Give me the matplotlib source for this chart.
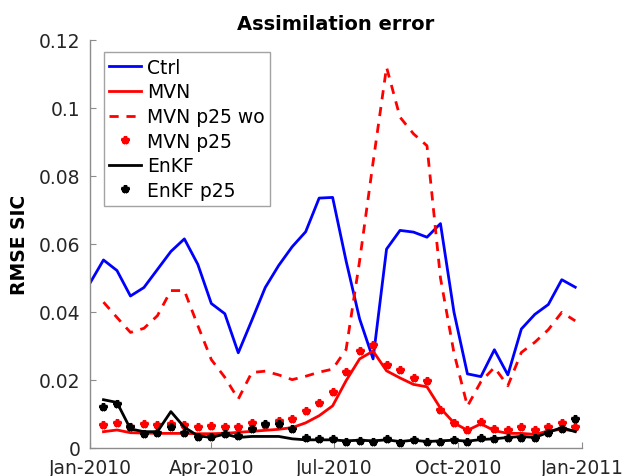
import matplotlib
matplotlib.use("Agg")
import matplotlib.pyplot as plt
import pandas as pd

plt.rcParams['font.family'] = ['DejaVu Sans']

start = pd.Timestamp("2010-01-01")
days_ctrl = [0, 10, 20, 30, 40, 50, 60, 70, 80, 90, 100, 110, 120, 130, 140, 150, 160, 170, 180,
             190, 200, 210, 220, 230, 240, 250, 260, 270, 280, 290, 300, 310, 320, 330, 340, 350, 360]
days = days_ctrl[1:]
dates_ctrl = [start + pd.Timedelta(days=d) for d in days_ctrl]
dates = [start + pd.Timedelta(days=d) for d in days]

ctrl = [0.0485, 0.0553, 0.0522, 0.0447, 0.0472, 0.0525, 0.0578, 0.0615, 0.0540, 0.0425, 0.0395,
        0.0280, 0.0375, 0.0472, 0.0537, 0.0592, 0.0636, 0.0735, 0.0737, 0.0550, 0.0380, 0.0262,
        0.0585, 0.0640, 0.0635, 0.0620, 0.0660, 0.0400, 0.0218, 0.0210, 0.0289, 0.0215, 0.0350,
        0.0393, 0.0422, 0.0495, 0.0473]
mvn_p25_wo = [0.0429, 0.0384, 0.0340, 0.0352, 0.0389, 0.0463, 0.0463, 0.0360, 0.0260, 0.0208,
              0.0144, 0.0222, 0.0226, 0.0215, 0.0201, 0.0211, 0.0223, 0.0232, 0.0290, 0.0550,
              0.0840, 0.1120, 0.0973, 0.0924, 0.0889, 0.0500, 0.0280, 0.0123, 0.0195, 0.0237,
              0.0183, 0.0281, 0.0311, 0.0348, 0.0399, 0.0374]
mvn = [0.0048, 0.0053, 0.0045, 0.0044, 0.0043, 0.0043, 0.0043, 0.0042, 0.0042, 0.0043, 0.0046,
       0.0049, 0.0052, 0.0055, 0.0060, 0.0074, 0.0095, 0.0124, 0.0198, 0.0262, 0.0285, 0.0227,
       0.0206, 0.0187, 0.0180, 0.0117, 0.0074, 0.0052, 0.0071, 0.0051, 0.0043, 0.0043, 0.0040,
       0.0050, 0.0055, 0.0050]
mvn_p25 = [0.0068, 0.0075, 0.0061, 0.0071, 0.0068, 0.0071, 0.0068, 0.0061, 0.0064, 0.0061, 0.0061,
           0.0074, 0.0068, 0.0080, 0.0085, 0.0108, 0.0133, 0.0165, 0.0223, 0.0284, 0.0304, 0.0243,
           0.0229, 0.0205, 0.0198, 0.0112, 0.0075, 0.0054, 0.0077, 0.0056, 0.0054, 0.0061, 0.0054,
           0.0061, 0.0073, 0.0061]
enkf = [0.0142, 0.0134, 0.0056, 0.0048, 0.0048, 0.0107, 0.0061, 0.0036, 0.0031, 0.0041, 0.0031,
        0.0034, 0.0034, 0.0034, 0.0027, 0.0024, 0.0024, 0.0024, 0.0021, 0.0023, 0.0021, 0.0024,
        0.0019, 0.0023, 0.0019, 0.0021, 0.0023, 0.0020, 0.0025, 0.0027, 0.0031, 0.0034, 0.0031,
        0.0046, 0.0060, 0.0048]
enkf_p25 = [0.0122, 0.0130, 0.0061, 0.0041, 0.0044, 0.0061, 0.0044, 0.0031, 0.0031, 0.0041, 0.0034,
            0.0056, 0.0070, 0.0070, 0.0056, 0.0028, 0.0026, 0.0026, 0.0019, 0.0022, 0.0019, 0.0026,
            0.0015, 0.0025, 0.0017, 0.0019, 0.0025, 0.0017, 0.0028, 0.0026, 0.0030, 0.0030, 0.0028,
            0.0043, 0.0057, 0.0084]

xtick_dates = ["2010-01-01", "2010-04-01", "2010-07-01", "2010-10-01", "2011-01-01"]
xtick_labels = ["Jan-2010", "Apr-2010", "Jul-2010", "Oct-2010", "Jan-2011"]
yticks = [0, 0.02, 0.04, 0.06, 0.08, 0.1, 0.12]
ytick_labels = ["0", "0.02", "0.04", "0.06", "0.08", "0.1", "0.12"]

fig = plt.figure(figsize=(6.24, 4.77), dpi=100)
ax = fig.add_axes([90 / 624, 1 - 449 / 477, 492 / 624, 408 / 477])

ax.plot(dates_ctrl, ctrl, color='#0000ff', lw=2.0, label='Ctrl')
ax.plot(dates, mvn, color='#ff0000', lw=2.0, label='MVN')
ax.plot(dates, mvn_p25_wo, color='#ff0000', lw=2.0, ls=(0, (3.3, 2.8)), label='MVN p25 wo')
ax.plot(dates, mvn_p25, color='#ff0000', lw=0, marker='*', ms=5.5, mew=2.4, label='MVN p25')
ax.plot(dates, enkf, color='black', lw=2.0, label='EnKF')
ax.plot(dates, enkf_p25, color='black', lw=0, marker='*', ms=5.5, mew=2.4, label='EnKF p25')

ax.set_xlim(pd.Timestamp("2010-01-01"), pd.Timestamp("2011-01-01"))
ax.set_ylim(0, 0.12)
ax.set_xticks([pd.Timestamp(d) for d in xtick_dates])
ax.set_xticklabels(xtick_labels)
ax.set_yticks(yticks)
ax.set_yticklabels(ytick_labels)

for s in ['top', 'right']:
    ax.spines[s].set_visible(False)
for s in ['left', 'bottom']:
    ax.spines[s].set_color('#8c8c8c')
    ax.spines[s].set_linewidth(1.0)
ax.tick_params(direction='in', length=4, width=0.8, colors='#8c8c8c', labelcolor='#262626',
               labelsize=13.5)
ax.tick_params(axis='x', pad=7)
ax.tick_params(axis='y', pad=7)

ax.set_title('Assimilation error', fontsize=14, fontweight='bold', pad=8)
ax.set_ylabel('RMSE SIC', fontsize=13.5, fontweight='bold', labelpad=7)

leg = ax.legend(loc='upper left', bbox_to_anchor=(0.028, 0.97), fontsize=13.5,
                frameon=True, fancybox=False, edgecolor='#8c8c8c', handlelength=1.7,
                handletextpad=0.3, borderpad=0.3, labelspacing=0.3, borderaxespad=0)
leg.get_frame().set_linewidth(1.0)

fig.savefig('out.png', dpi=100)
